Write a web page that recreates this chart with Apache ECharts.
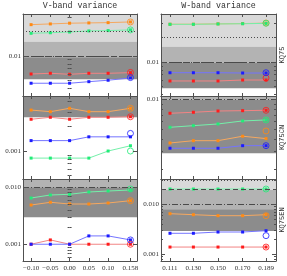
<!DOCTYPE html>
<html><head><meta charset="utf-8">
<script src="https://cdn.jsdelivr.net/npm/echarts@6/dist/echarts.min.js"></script>
<style>html,body{margin:0;padding:0;background:#fff}#c{width:287px;height:276px}</style>
</head><body><div id="c"></div>
<script>
// ---- x positions and tick labels ----
const xV = [-0.10, -0.05, 0.00, 0.05, 0.10, 0.158];
const xW = [0.111, 0.130, 0.150, 0.170, 0.189];
const xVTicks = ['\u22120.10', '\u22120.05', '0.00', '0.05', '0.10', '0.158'];
const xWTicks = ['0.111', '0.130', '0.150', '0.170', '0.189'];
const colTitles = ['V-band variance', 'W-band variance'];
const maskNames = ['KQ75', 'KQ75CN', 'KQ75EN'];

// ---- V band, KQ75 ----
const vKQ75Orange = [0.0241, 0.0246, 0.0251, 0.0253, 0.0255, 0.0260];
const vKQ75Green  = [0.0189, 0.0192, 0.0196, 0.0202, 0.0204, 0.0208];
const vKQ75Red    = [0.00603, 0.00615, 0.00598, 0.00615, 0.00615, 0.00626];
const vKQ75Blue   = [0.00465, 0.00465, 0.00465, 0.00486, 0.00506, 0.00539];
const vKQ75Ref    = [0.0260, 0.0208, 0.00630, 0.00545]; // orange, green, red, blue
const vKQ75Bands  = [[0.0149, 0.0325], [0.00964, 0.0149], [0.0052, 0.00964]];
const vKQ75Lines  = [0.0175, 0.0128, 0.00845];
const vKQ75Labels = [[0.01, '0.01']];

// ---- W band, KQ75 ----
const wKQ75Orange = [0.0289, 0.0289, 0.0292, 0.0294, 0.0298];
const wKQ75Green  = [0.0288, 0.0288, 0.0291, 0.0293, 0.0296];
const wKQ75Red    = [0.00587, 0.00587, 0.00587, 0.00603, 0.00603];
const wKQ75Blue   = [0.00740, 0.00740, 0.00740, 0.00734, 0.00734];
const wKQ75Ref    = [0.0299, 0.0297, 0.00638, 0.00740];
const wKQ75Bands  = [[0.0154, 0.0385], [0.0098, 0.0154], [0.00478, 0.0098]];
const wKQ75Lines  = [0.0189, 0.0131, 0.00806];
const wKQ75Labels = [[0.01, '0.01']];

// ---- V band, KQ75CN ----
const vCNOrange = [0.00316, 0.00302, 0.00332, 0.00302, 0.00302, 0.00332];
const vCNGreen  = [0.00082, 0.00082, 0.00082, 0.00082, 0.00100, 0.00116];
const vCNRed    = [0.00244, 0.00258, 0.00244, 0.00258, 0.00258, 0.00262];
const vCNBlue   = [0.00134, 0.00134, 0.00134, 0.00149, 0.00149, 0.00149];
const vCNRef    = [0.00332, 0.00100, 0.00262, 0.00164];
const vCNBands  = [null, null, [0.00258, 0.00469]];
const vCNLines  = [null, null, null];
const vCNLabels = [[0.001, '0.001']];

// ---- W band, KQ75CN ----
const wCNOrange = [0.00367, 0.00387, 0.00387, 0.00429, 0.00406];
const wCNGreen  = [0.00527, 0.00547, 0.00569, 0.00610, 0.00624];
const wCNRed    = [0.00728, 0.00745, 0.00767, 0.00773, 0.00780];
const wCNBlue   = [0.00325, 0.00325, 0.00325, 0.00345, 0.00345];
const wCNRef    = [0.00484, 0.00624, 0.00780, 0.00345];
const wCNBands  = [null, [0.00989, 0.01084], [0.0029, 0.00989]];
const wCNLines  = [null, null, 0.0073];
const wCNLabels = [[0.01, '0.01']];

// ---- V band, KQ75EN ----
const vENOrange = [0.00486, 0.00542, 0.00506, 0.00506, 0.00527, 0.00578];
const vENGreen  = [0.00644, 0.00726, 0.00746, 0.00819, 0.00852, 0.00887];
const vENRed    = [0.00101, 0.00120, 0.00101, 0.00101, 0.00101, 0.00101];
const vENBlue   = [0.00101, 0.00101, 0.00101, 0.00141, 0.00141, 0.00120];
const vENRef    = [0.00578, 0.00923, 0.00101, 0.00120];
const vENBands  = [null, [0.00988, 0.01378], [0.00297, 0.00988]];
const vENLines  = [null, null, 0.00746];
const vENLabels = [[0.01, '0.010'], [0.001, '0.001']];

// ---- W band, KQ75EN ----
const wENOrange = [0.00647, 0.00618, 0.00590, 0.00590, 0.00618];
const wENGreen  = [0.0203, 0.0203, 0.0203, 0.0203, 0.0203];
const wENRed    = [0.00138, 0.00138, 0.00138, 0.00138, 0.00138];
const wENBlue   = [0.00261, 0.00261, 0.00277, 0.00277, 0.00294];
const wENRef    = [0.00590, 0.0203, 0.00138, 0.00234];
const wENBands  = [[0.0194, 0.0323], [0.00793, 0.0194], [0.0029, 0.00793]];
const wENLines  = [0.0277, 0.0152, 0.00733];
const wENLabels = [[0.01, '0.010'], [0.001, '0.001']];

// ---- layout / style ----
const gridLeft = [23, 161], gridW = [114, 115];
const rowTop = [14, 96, 179], rowH = [82, 83, 82];
const xRange = [[-0.121, 0.175], [0.1037, 0.1971]];
const yRange = [
  [[0.00325, 0.0325], [0.00385, 0.0385]],
  [[0.000456, 0.00469], [0.0016, 0.01084]],
  [[0.000516, 0.01378], [0.000723, 0.0323]]
];
const MARK = {orange: '#ff8a14', green: '#22ec78', red: '#ff1c1c', blue: '#1c1cff'};
const LINE = {orange: '#f5a860', green: '#74f0aa', red: '#f28484', blue: '#7474ff'};
const BAND = ['#d9d9d9', '#b3b3b3', '#8c8c8c'];
const LTYPE = [[1, 2], [5, 3], [6, 2, 1, 2]];
const AX = '#505050';
const FONT = 'Liberation Serif';

const panels = [
  {r:0,c:0,s:{orange:vKQ75Orange,green:vKQ75Green,red:vKQ75Red,blue:vKQ75Blue},ref:vKQ75Ref,bands:vKQ75Bands,lines:vKQ75Lines,labels:vKQ75Labels},
  {r:0,c:1,s:{orange:wKQ75Orange,green:wKQ75Green,red:wKQ75Red,blue:wKQ75Blue},ref:wKQ75Ref,bands:wKQ75Bands,lines:wKQ75Lines,labels:wKQ75Labels},
  {r:1,c:0,s:{orange:vCNOrange,green:vCNGreen,red:vCNRed,blue:vCNBlue},ref:vCNRef,bands:vCNBands,lines:vCNLines,labels:vCNLabels},
  {r:1,c:1,s:{orange:wCNOrange,green:wCNGreen,red:wCNRed,blue:wCNBlue},ref:wCNRef,bands:wCNBands,lines:wCNLines,labels:wCNLabels},
  {r:2,c:0,s:{orange:vENOrange,green:vENGreen,red:vENRed,blue:vENBlue},ref:vENRef,bands:vENBands,lines:vENLines,labels:vENLabels},
  {r:2,c:1,s:{orange:wENOrange,green:wENGreen,red:wENRed,blue:wENBlue},ref:wENRef,bands:wENBands,lines:wENLines,labels:wENLabels}
];

function logTicks(lo, hi, major) {
  const out = [];
  for (let e = -5; e <= 0; e++) {
    for (let m = 1; m <= 9; m++) {
      const v = m * Math.pow(10, e);
      if (v >= lo * 0.999 && v <= hi * 1.001 && ((m === 1) === major)) out.push(v);
    }
  }
  return out;
}

const grid = [], xAxis = [], yAxis = [], series = [];
panels.forEach((p, i) => {
  const xs = p.c === 0 ? xV : xW;
  const xl = p.c === 0 ? xVTicks : xWTicks;
  const [ylo, yhi] = yRange[p.r][p.c];
  grid.push({left: gridLeft[p.c], top: rowTop[p.r], width: gridW[p.c], height: rowH[p.r], show: false});
  const xBase = {type: 'value', gridIndex: i, min: xRange[p.c][0], max: xRange[p.c][1], z: 10,
    splitLine: {show: false}, axisLine: {show: true, onZero: false, lineStyle: {color: AX, width: 1}},
    axisTick: {show: true, inside: true, length: 3, customValues: xs, lineStyle: {color: AX}}};
  xAxis.push(Object.assign({}, xBase, {position: 'bottom',
    axisLabel: {show: p.r === 2, customValues: xs, margin: 4, hideOverlap: false, fontFamily: FONT, fontSize: 7, color: '#333',
      formatter: v => { const k = xs.findIndex(t => Math.abs(t - v) < 1e-6); return k >= 0 ? xl[k] : ''; }}}));
  xAxis.push(Object.assign({}, xBase, {position: 'top', axisLabel: {show: false}}));
  const yBase = {type: 'log', logBase: 10, gridIndex: i, min: ylo, max: yhi, z: 10, splitLine: {show: false}};
  const lab = p.labels;
  ['left', 'right'].forEach(side => {
    yAxis.push(Object.assign({}, yBase, {position: side,
      axisLine: {show: true, onZero: false, lineStyle: {color: AX, width: 1}},
      axisTick: {show: true, inside: true, length: 4, customValues: logTicks(ylo, yhi, true), lineStyle: {color: AX}},
      axisLabel: side === 'left' ? {show: true, customValues: lab.map(l => l[0]), margin: 2, fontFamily: FONT, fontSize: 7, color: '#333',
        formatter: v => { const k = lab.findIndex(l => Math.abs(l[0] - v) / l[0] < 1e-3); return k >= 0 ? lab[k][1] : ''; }} : {show: false}}));
    yAxis.push(Object.assign({}, yBase, {position: side,
      axisLine: {show: false},
      axisTick: {show: true, inside: true, length: 2, customValues: logTicks(ylo, yhi, false), lineStyle: {color: AX}},
      axisLabel: {show: false}}));
  });
  const xi = 2 * i, yi = 4 * i;
  const areas = [];
  p.bands.forEach((b, k) => { if (b) areas.push([{yAxis: b[0], itemStyle: {color: BAND[k]}}, {yAxis: b[1]}]); });
  const mlines = [];
  p.lines.forEach((v, k) => { if (v != null) mlines.push({yAxis: v, lineStyle: {type: LTYPE[k], color: '#4a4a4a', width: 1}}); });
  series.push({type: 'line', xAxisIndex: xi, yAxisIndex: yi, data: [], z: 1, silent: true,
    markArea: {silent: true, data: areas, itemStyle: {opacity: 1}},
    markLine: {silent: true, symbol: 'none', label: {show: false}, data: mlines, animation: false}});
  ['orange', 'green', 'red', 'blue'].forEach((name, k) => {
    series.push({type: 'line', xAxisIndex: xi, yAxisIndex: yi, z: 3,
      data: xs.map((x, j) => [x, p.s[name][j]]),
      symbol: 'rect', symbolSize: 3, showSymbol: true,
      lineStyle: {color: LINE[name], width: 1}, itemStyle: {color: MARK[name]}});
    series.push({type: 'scatter', xAxisIndex: xi, yAxisIndex: yi, z: 4,
      data: [[xs[xs.length - 1], p.ref[k]]], symbol: 'circle', symbolSize: 6,
      itemStyle: {color: 'rgba(255,255,255,0)', borderColor: MARK[name], borderWidth: 1}});
  });
});

const graphic = [];
colTitles.forEach((t, c) => graphic.push({type: 'text', x: gridLeft[c] + gridW[c] / 2, y: 6,
  style: {text: t, fill: '#333', font: '8.3px "Liberation Mono"', align: 'center', verticalAlign: 'middle'}}));
maskNames.forEach((t, r) => graphic.push({type: 'text', x: 282, y: rowTop[r] + rowH[r] / 2, rotation: Math.PI / 2,
  style: {text: t, fill: '#333', font: '7px "Liberation Mono"', align: 'center', verticalAlign: 'middle'}}));

const chart = echarts.init(document.getElementById('c'), null, {renderer: 'canvas'});
chart.setOption({animation: false, backgroundColor: '#fff', grid, xAxis, yAxis, series, graphic});
</script></body></html>
